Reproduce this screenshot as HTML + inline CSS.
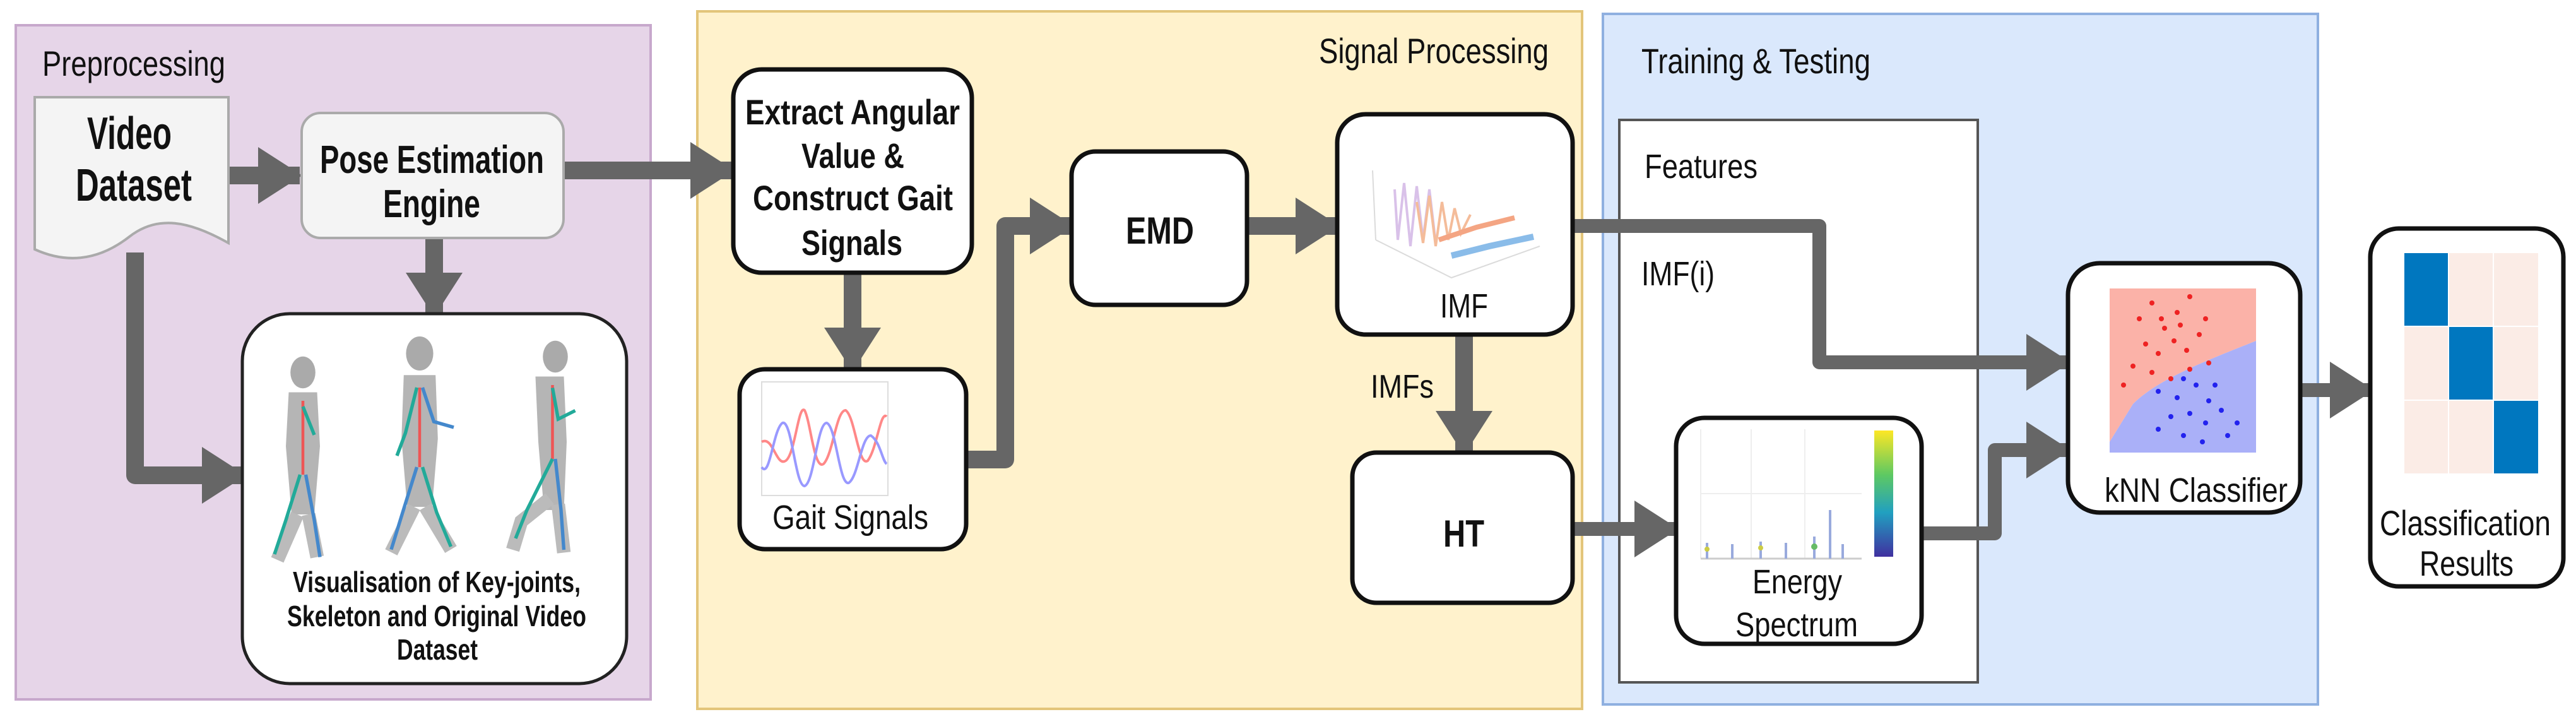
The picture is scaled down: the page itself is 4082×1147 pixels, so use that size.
<!DOCTYPE html>
<html><head><meta charset="utf-8"><style>
html,body{margin:0;padding:0;background:#fff}
svg{display:block}
text{font-family:"Liberation Sans",Arial,sans-serif;fill:#111}
</style></head><body>
<svg width="4082" height="1147" viewBox="0 0 4082 1147" xmlns="http://www.w3.org/2000/svg">
<defs>
<marker id="ah" markerUnits="userSpaceOnUse" markerWidth="70" markerHeight="90" refX="66" refY="45" orient="auto">
<path d="M0,0 L70,45 L0,90 Z" fill="#666"/>
</marker>
</defs>

<rect x="25" y="40" width="1006" height="1068" fill="#e6d5e8" stroke="#c7a8cc" stroke-width="4"/>
<rect x="1105" y="18" width="1402" height="1105" fill="#fff2cc" stroke="#e3c57a" stroke-width="4"/>
<rect x="2540" y="22" width="1133" height="1094" fill="#dae8fc" stroke="#8fb0e0" stroke-width="4"/>
<rect x="2566" y="190" width="568" height="891" fill="#fff" stroke="#555" stroke-width="4"/>

<text x="67" y="120" font-size="56" textLength="290" lengthAdjust="spacingAndGlyphs">Preprocessing</text>
<text x="2090" y="100" font-size="56" textLength="364" lengthAdjust="spacingAndGlyphs">Signal Processing</text>
<text x="2601" y="116" font-size="56" textLength="363" lengthAdjust="spacingAndGlyphs">Training &amp; Testing</text>
<text x="2606" y="282" font-size="54" textLength="179" lengthAdjust="spacingAndGlyphs">Features</text>
<text x="2601" y="452" font-size="54" textLength="116" lengthAdjust="spacingAndGlyphs">IMF(i)</text>

<g fill="none" stroke="#666" stroke-width="28" stroke-linejoin="round">
<line x1="362" y1="278" x2="475" y2="278" marker-end="url(#ah)"/>
<line x1="895" y1="270" x2="1160" y2="270" marker-end="url(#ah)"/>
<line x1="688" y1="377" x2="688" y2="498" marker-end="url(#ah)"/>
<path d="M214 400 L214 753 L386 753" marker-end="url(#ah)"/>
<line x1="1351" y1="432" x2="1351" y2="585" marker-end="url(#ah)"/>
<path d="M1531 728 L1593 728 L1593 358 L1698 358" marker-end="url(#ah)"/>
<line x1="1976" y1="358" x2="2119" y2="358" marker-end="url(#ah)"/>
<line x1="2320" y1="530" x2="2320" y2="717" marker-end="url(#ah)"/>
<path d="M2492 358 L2883 358 L2883 574 L3277 574" marker-end="url(#ah)" stroke-width="22"/>
<line x1="2492" y1="838" x2="2656" y2="838" marker-end="url(#ah)" stroke-width="22"/>
<path d="M3045 845 L3161 845 L3161 713 L3277 713" marker-end="url(#ah)" stroke-width="22"/>
<line x1="3645" y1="618" x2="3758" y2="618" marker-end="url(#ah)" stroke-width="22"/>
</g>
<text x="2172" y="630" font-size="52" textLength="100" lengthAdjust="spacingAndGlyphs">IMFs</text>

<path d="M55 154 L362 154 L362 385 C300 350 250 340 205 375 C160 410 110 420 55 395 Z" fill="#f4f4f4" stroke="#aaa" stroke-width="4"/>
<text x="138" y="236" font-size="72" font-weight="bold" fill="#333" textLength="134" lengthAdjust="spacingAndGlyphs">Video</text>
<text x="120" y="318" font-size="72" font-weight="bold" fill="#333" textLength="184" lengthAdjust="spacingAndGlyphs">Dataset</text>

<rect x="478" y="179" width="415" height="198" rx="30" fill="#f4f4f4" stroke="#aaa" stroke-width="4"/>
<text x="507" y="274" font-size="62" font-weight="bold" fill="#333" textLength="355" lengthAdjust="spacingAndGlyphs">Pose Estimation</text>
<text x="607" y="344" font-size="62" font-weight="bold" fill="#333" textLength="154" lengthAdjust="spacingAndGlyphs">Engine</text>

<rect x="384" y="497" width="609" height="586" rx="75" fill="#fff" stroke="#222" stroke-width="5"/>
<g>
<g transform="translate(480,590) scale(0.9)">
<ellipse cx="0" cy="0" rx="22" ry="28" fill="#aaa"/>
<path d="M-25 35 L25 35 L30 130 L20 250 L-20 250 L-30 130 Z" fill="#b5b5b5"/>
<path d="M-10 250 L-45 330 M10 250 L25 325" stroke="#bbb" stroke-width="24" fill="none"/>
<path d="M0 50 L0 180" stroke="#e55" stroke-width="5"/>
<path d="M-5 180 L-30 260 L-50 320 M0 60 L20 110" stroke="#2a9" stroke-width="6" fill="none"/>
<path d="M5 180 L20 260 L30 325" stroke="#48c" stroke-width="6" fill="none"/>
</g>
<g transform="translate(665,560) scale(0.9)">
<ellipse cx="0" cy="0" rx="24" ry="30" fill="#aaa"/>
<path d="M-28 38 L28 38 L32 150 L22 270 L-22 270 L-32 150 Z" fill="#b5b5b5"/>
<path d="M-10 270 L-50 350 M10 270 L55 345" stroke="#bbb" stroke-width="24" fill="none"/>
<path d="M0 60 L0 200" stroke="#e55" stroke-width="5"/>
<path d="M-5 60 L-25 140 L-40 180 M5 200 L30 280 L55 340" stroke="#2a9" stroke-width="6" fill="none"/>
<path d="M5 60 L25 120 L60 130 M-5 200 L-30 280 L-50 345" stroke="#48c" stroke-width="6" fill="none"/>
</g>
<g transform="translate(880,565) scale(0.9)">
<ellipse cx="0" cy="0" rx="22" ry="28" fill="#aaa"/>
<path d="M-35 35 L15 35 L20 150 L15 270 L-20 270 L-30 150 Z" fill="#b5b5b5"/>
<path d="M-10 250 L-60 290 L-75 340 M5 260 L15 345" stroke="#bbb" stroke-width="24" fill="none"/>
<path d="M-5 50 L-5 180" stroke="#e55" stroke-width="5"/>
<path d="M-5 55 L5 110 L35 95 M-5 180 L-50 270 L-70 320" stroke="#2a9" stroke-width="6" fill="none"/>
<path d="M0 180 L10 270 L15 340" stroke="#48c" stroke-width="6" fill="none"/>
</g>
</g>
<text x="464" y="938" font-size="46" font-weight="bold" textLength="456" lengthAdjust="spacingAndGlyphs">Visualisation of Key-joints,</text>
<text x="455" y="992" font-size="46" font-weight="bold" textLength="474" lengthAdjust="spacingAndGlyphs">Skeleton and Original Video</text>
<text x="629" y="1045" font-size="46" font-weight="bold" textLength="128" lengthAdjust="spacingAndGlyphs">Dataset</text>

<rect x="1162" y="110" width="378" height="322" rx="45" fill="#fff" stroke="#111" stroke-width="7"/>
<text x="1181" y="197" font-size="56" font-weight="bold" textLength="340" lengthAdjust="spacingAndGlyphs">Extract Angular</text>
<text x="1270" y="266" font-size="56" font-weight="bold" textLength="163" lengthAdjust="spacingAndGlyphs">Value &amp;</text>
<text x="1193" y="333" font-size="56" font-weight="bold" textLength="317" lengthAdjust="spacingAndGlyphs">Construct Gait</text>
<text x="1270" y="404" font-size="56" font-weight="bold" textLength="160" lengthAdjust="spacingAndGlyphs">Signals</text>

<rect x="1172" y="585" width="359" height="285" rx="40" fill="#fff" stroke="#111" stroke-width="7"/>
<rect x="1207" y="605" width="200" height="180" fill="none" stroke="#ddd" stroke-width="2"/>
<path d="M1207 700 C1225 690 1230 740 1245 730 C1260 720 1265 640 1275 650 C1285 670 1290 745 1305 735 C1320 720 1325 650 1340 650 C1355 660 1360 740 1375 730 C1390 710 1395 650 1405 660" fill="none" stroke="#f88" stroke-width="4"/>
<path d="M1207 740 C1220 760 1225 680 1240 670 C1255 665 1260 770 1275 770 C1290 765 1295 670 1310 670 C1325 675 1330 770 1345 765 C1360 755 1365 690 1380 690 C1395 700 1398 730 1405 735" fill="none" stroke="#99f" stroke-width="4"/>
<text x="1224" y="838" font-size="54" textLength="247" lengthAdjust="spacingAndGlyphs">Gait Signals</text>

<rect x="1698" y="240" width="278" height="243" rx="38" fill="#fff" stroke="#111" stroke-width="7"/>
<text x="1784" y="386" font-size="60" font-weight="bold" textLength="108" lengthAdjust="spacingAndGlyphs">EMD</text>

<rect x="2119" y="181" width="373" height="349" rx="45" fill="#fff" stroke="#111" stroke-width="7"/>
<g fill="none" stroke-width="4" opacity="0.7">
<path d="M2175 270 L2180 380 M2180 380 L2300 440 L2440 390" stroke="#ccc" stroke-width="2"/>
<path d="M2210 300 L2215 380 L2225 290 L2235 390 L2245 295 L2255 380 L2265 300 L2275 385" stroke="#c9a8e0"/>
<path d="M2245 320 L2255 385 L2265 310 L2275 390 L2285 320 L2295 380 L2305 330 L2315 370 L2330 340" stroke="#f0a070"/>
<path d="M2280 380 L2340 360 L2400 345" stroke="#f08050" stroke-width="8"/>
<path d="M2300 405 L2360 390 L2430 375" stroke="#5aa0e0" stroke-width="10"/>
</g>
<text x="2282" y="503" font-size="54" textLength="76" lengthAdjust="spacingAndGlyphs">IMF</text>

<rect x="2143" y="717" width="349" height="238" rx="38" fill="#fff" stroke="#111" stroke-width="7"/>
<text x="2287" y="866" font-size="60" font-weight="bold" textLength="65" lengthAdjust="spacingAndGlyphs">HT</text>

<rect x="2656" y="662" width="389" height="358" rx="45" fill="#fff" stroke="#111" stroke-width="7"/>
<g stroke="#eee" stroke-width="2"><line x1="2695" y1="680" x2="2695" y2="885"/><line x1="2775" y1="680" x2="2775" y2="885"/><line x1="2860" y1="680" x2="2860" y2="885"/><line x1="2695" y1="782" x2="2950" y2="782"/></g>
<line x1="2695" y1="885" x2="2950" y2="885" stroke="#ccc" stroke-width="3"/>
<g stroke="#9ad" stroke-width="4"><line x1="2705" y1="885" x2="2705" y2="860"/><line x1="2745" y1="885" x2="2745" y2="862"/><line x1="2790" y1="885" x2="2790" y2="858"/><line x1="2830" y1="885" x2="2830" y2="860"/><line x1="2875" y1="885" x2="2875" y2="850"/><line x1="2900" y1="885" x2="2900" y2="808"/><line x1="2920" y1="885" x2="2920" y2="862"/></g>
<g fill="#cc4"><circle cx="2705" cy="870" r="4"/><circle cx="2790" cy="868" r="4"/><circle cx="2875" cy="866" r="5" fill="#6b6"/></g>
<defs><linearGradient id="cb" x1="0" y1="0" x2="0" y2="1"><stop offset="0" stop-color="#fde725"/><stop offset="0.35" stop-color="#5ec962"/><stop offset="0.65" stop-color="#21a0c0"/><stop offset="1" stop-color="#4030a0"/></linearGradient></defs>
<rect x="2970" y="682" width="30" height="200" fill="url(#cb)"/>
<text x="2777" y="940" font-size="54" textLength="142" lengthAdjust="spacingAndGlyphs">Energy</text>
<text x="2750" y="1008" font-size="54" textLength="194" lengthAdjust="spacingAndGlyphs">Spectrum</text>

<rect x="3277" y="417" width="368" height="395" rx="50" fill="#fff" stroke="#111" stroke-width="7"/>
<path d="M3343 457 L3575 457 L3575 540 C3500 570 3420 600 3380 640 L3343 700 Z" fill="#fbb2a8"/>
<path d="M3343 700 L3380 640 C3420 600 3500 570 3575 540 L3575 717 L3343 717 Z" fill="#aab0f8"/>
<g fill="#e22">
<circle cx="3390" cy="505" r="4"/><circle cx="3410" cy="480" r="4"/><circle cx="3430" cy="520" r="4"/><circle cx="3450" cy="495" r="4"/><circle cx="3470" cy="470" r="4"/><circle cx="3400" cy="545" r="4"/><circle cx="3420" cy="560" r="4"/><circle cx="3445" cy="540" r="4"/><circle cx="3465" cy="555" r="4"/><circle cx="3485" cy="530" r="4"/><circle cx="3380" cy="580" r="4"/><circle cx="3410" cy="590" r="4"/><circle cx="3440" cy="600" r="4"/><circle cx="3470" cy="585" r="4"/><circle cx="3365" cy="610" r="4"/><circle cx="3500" cy="575" r="4"/><circle cx="3425" cy="505" r="4"/><circle cx="3455" cy="515" r="4"/><circle cx="3495" cy="505" r="4"/>
</g>
<g fill="#22e">
<circle cx="3420" cy="620" r="4"/><circle cx="3450" cy="630" r="4"/><circle cx="3480" cy="610" r="4"/><circle cx="3500" cy="635" r="4"/><circle cx="3440" cy="660" r="4"/><circle cx="3470" cy="655" r="4"/><circle cx="3495" cy="670" r="4"/><circle cx="3520" cy="650" r="4"/><circle cx="3460" cy="690" r="4"/><circle cx="3490" cy="700" r="4"/><circle cx="3420" cy="680" r="4"/><circle cx="3530" cy="690" r="4"/><circle cx="3510" cy="610" r="4"/><circle cx="3460" cy="600" r="4"/><circle cx="3545" cy="670" r="4"/>
</g>
<text x="3335" y="795" font-size="54" textLength="290" lengthAdjust="spacingAndGlyphs">kNN Classifier</text>

<rect x="3756" y="362" width="306" height="567" rx="45" fill="#fff" stroke="#111" stroke-width="7"/>
<rect x="3810" y="401" width="212" height="349" fill="#fbece6"/>
<rect x="3810" y="401" width="70" height="116" fill="#0077bf"/>
<rect x="3880" y="517" width="71" height="117" fill="#0077bf"/>
<rect x="3951" y="634" width="71" height="116" fill="#0077bf"/>
<g stroke="#fff" stroke-width="2"><line x1="3880" y1="401" x2="3880" y2="750"/><line x1="3951" y1="401" x2="3951" y2="750"/><line x1="3810" y1="517" x2="4022" y2="517"/><line x1="3810" y1="634" x2="4022" y2="634"/></g>
<text x="3771" y="848" font-size="56" textLength="271" lengthAdjust="spacingAndGlyphs">Classification</text>
<text x="3834" y="912" font-size="56" textLength="149" lengthAdjust="spacingAndGlyphs">Results</text>
</svg>
</body></html>
